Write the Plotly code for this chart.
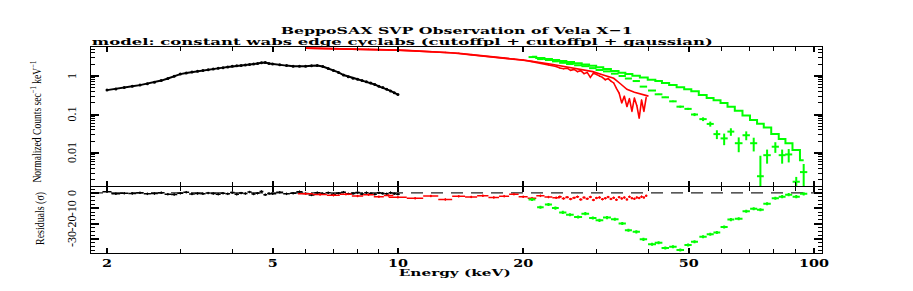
import json
import math
import plotly.graph_objects as go

# ---------------- data ----------------
black_e = [2.0, 2.1, 2.2, 2.3, 2.4, 2.5, 2.6, 2.7, 2.8, 2.9, 3.0, 3.1, 3.2, 3.3, 3.4, 3.5, 3.6, 3.7, 3.8, 3.9,
           4.0, 4.1, 4.2, 4.3, 4.4, 4.5, 4.6, 4.7, 4.8, 4.9, 5.0, 5.2, 5.4, 5.6, 5.8, 6.0, 6.2, 6.4, 6.6, 6.8,
           7.0, 7.2, 7.4, 7.6, 7.8, 8.0, 8.2, 8.4, 8.6, 8.8, 9.0, 9.2, 9.4, 9.6, 9.8, 10.0]
black_xerr = [0.05] * 30 + [0.1] * 26
black_c = [0.43, 0.46, 0.50, 0.54, 0.58, 0.63, 0.69, 0.76, 0.86, 0.98, 1.12, 1.20, 1.27, 1.33, 1.40, 1.46, 1.52, 1.58, 1.65, 1.72,
           1.80, 1.84, 1.88, 1.94, 1.98, 2.04, 2.10, 2.20, 2.25, 2.12, 2.05, 1.96, 1.86, 1.80, 1.78, 1.80, 1.84, 1.88, 1.76, 1.56,
           1.40, 1.24, 1.06, 0.96, 0.88, 0.82, 0.76, 0.71, 0.66, 0.60, 0.54, 0.50, 0.45, 0.41, 0.37, 0.33]
black_r = [0.8, -0.5, -0.2, -0.3, 0.1, -0.6, -0.4, 0.2, -0.8, -1.0, -0.2, 0.5, -0.7, -0.3, -0.5, -0.1, -0.4, -0.8, -0.2, -0.6,
           0.3, -0.9, -0.1, -0.4, 0.6, -0.7, -0.2, 0.9, -1.1, -0.3, -0.5, 0.4, -0.6, -0.2, 0.8, -0.4, -1.3, 0.2, -0.5, 0.1,
           -0.8, -0.2, 0.5, -0.6, -0.3, 0.3, -0.7, 0.2, -0.4, -0.9, 0.1, -0.3, -0.6, 0.2, -0.5, -0.8]

red_e = [6.0, 6.5, 7.0, 7.5, 8.0, 8.5, 9.0, 9.5,
         10, 11, 12, 13, 14, 15, 16, 17, 18, 19, 20, 21, 22, 23, 24,
         24.5, 25, 25.5, 26, 26.5, 27, 27.5, 28, 28.5, 29, 29.5, 30, 30.5, 31, 31.5, 32, 32.5, 33, 33.5,
         34, 34.5, 35, 35.5, 36, 36.5, 37, 37.5, 38, 38.5, 39, 39.5]
red_xerr = [0.25] * 8 + [0.5] * 15 + [0.25] * 31
red_c = [5.30, 5.22, 5.15, 5.10, 5.02, 4.95, 4.88, 4.80,
         4.70, 4.50, 4.30, 4.10, 3.90, 3.60, 3.35, 3.15, 2.95, 2.80, 2.60, 2.36, 2.15, 1.95, 1.76,
         1.62, 1.55, 1.60, 1.40, 1.48, 1.30, 1.38, 1.15, 1.24, 0.92, 1.20, 1.10, 0.98, 0.92, 0.80, 0.86, 0.74, 0.66, 0.48,
         0.36, 0.20, 0.30, 0.16, 0.26, 0.12, 0.27, 0.17, 0.08, 0.24, 0.12, 0.28]
red_r = [-0.5, -1.0, -1.5, -0.8, -2.0, -1.2, -2.4, -1.6,
         -2.8, -3.5, -2.0, -4.2, -2.2, -2.6, -1.8, -2.9, -2.1, -0.8, -2.5, -3.4, -1.9, -2.7, -3.1,
         -2.4, -3.6, -2.8, -4.0, -3.2, -2.5, -4.3, -3.0, -3.8, -2.6, -4.6, -3.3, -2.9, -4.1, -3.5, -2.7, -3.9, -3.1, -4.4,
         -2.8, -3.6, -3.0, -4.2, -2.5, -3.4, -3.8, -2.9, -3.3, -2.4, -3.0, -1.8]
red_model_e = [6.0, 8.0, 10.0, 13.4, 17.7, 20.8, 23.2, 25.4, 27.5, 29.4, 31.0, 33.0, 34.3, 35.5, 37.0, 40.0]
red_model_c = [5.3, 5.0, 4.7, 4.03, 3.0, 2.45, 2.05, 1.7, 1.45, 1.3, 1.08, 0.87, 0.62, 0.45, 0.38, 0.30]

green_e = [21.0, 22.0, 23.0, 23.9, 24.9, 25.9, 27.1, 28.2, 29.4, 30.5, 31.8, 33.2, 34.6, 35.8, 37.4, 38.9, 40.8, 42.3, 43.9,
           45.8, 47.7, 49.8, 51.6, 54.1, 56.3, 58.4, 60.8, 63.1, 65.9, 68.7, 71.6, 74.3, 77.1, 80.7, 83.8, 86.9, 90.6, 94.4]
green_xerr = [0.4, 0.4, 0.45, 0.45, 0.5, 0.55, 0.6, 0.6, 0.6, 0.65, 0.7, 0.7, 0.7, 0.7, 0.75, 0.8, 0.9, 0.9, 0.9,
              0.95, 1.0, 1.0, 1.0, 1.1, 1.1, 1.1, 1.2, 1.2, 1.4, 1.4, 1.4, 1.4, 1.6, 1.6, 1.6, 1.7, 1.8, 1.9]
green_c = [3.1, 2.75, 2.6, 2.4, 2.2, 2.05, 1.9, 1.8, 1.6, 1.43, 1.32, 1.15, 1.0, 0.86, 0.74, 0.53, 0.42, 0.335, 0.28,
           0.22, 0.16, 0.14, 0.10, 0.076, 0.057, 0.031, 0.024, 0.036, 0.018, 0.029, 0.018, 0.0025, 0.0088, 0.0146, 0.0088,
           0.0092, 0.0018, 0.0032]
green_yerr = [0.03, 0.03, 0.028, 0.026, 0.025, 0.024, 0.022, 0.021, 0.02, 0.018, 0.017, 0.016, 0.015, 0.014, 0.013, 0.012,
              0.011, 0.011, 0.010, 0.010, 0.0095, 0.009, 0.009, 0.0085, 0.0085, 0.008, 0.008, 0.008, 0.0075, 0.0075,
              0.007, 0.006, 0.0035, 0.0045, 0.0035, 0.0035, 0.0006, 0.002]
green_model = [3.15, 2.95, 2.75, 2.6, 2.45, 2.3, 2.15, 2.0, 1.85, 1.68, 1.52, 1.35, 1.22, 1.12, 1.02, 0.92, 0.80, 0.74, 0.66,
               0.58, 0.51, 0.45, 0.40, 0.32, 0.27, 0.235, 0.20, 0.16, 0.125, 0.095, 0.072, 0.058, 0.046, 0.031, 0.023,
               0.018, 0.012, 0.0065]
green_r = [-4.3, -9.3, -7.5, -9.9, -12.7, -14.2, -15.7, -13.5, -16.4, -17.9, -16.1, -17.2, -20.0, -24.3, -25.4, -30.3,
           -33.5, -32.5, -35.9, -35.1, -37.2, -34.0, -31.9, -28.6, -26.9, -25.8, -22.2, -17.4, -16.8, -11.9, -10.3, -11.0,
           -7.1, -3.5, -2.4, -1.1, -2.4, -0.6]

x_ticks = [2, 5, 10, 20, 50, 100]
x_minor = [3, 4, 6, 7, 8, 9, 30, 40, 60, 70, 80, 90]
y_ticks = [0.01, 0.1, 1]
y_ticktext = ["0.01", "0.1", "1"]
y_minor = [m * d for d in (0.001, 0.01, 0.1, 1) for m in range(2, 10)]
r_ticks = [0, -10, -20, -30]

TITLE1 = "BeppoSAX SVP Observation of Vela X\u22121"
TITLE2 = "model: constant wabs edge cyclabs (cutoffpl + cutoffpl + gaussian)"
XTITLE = "Energy (keV)"
YTITLE = "Normalized Counts sec<sup>\u22121</sup> keV<sup>\u22121</sup>"
RTITLE = "Residuals (\u03c3)"

BLACK, RED, GREEN = "#000000", "#ff0000", "#00ff00"
WIDE = "DejaVu Serif"
NARROW = "Liberation Serif"

fig = go.Figure()

# ---- top panel ----
fig.add_trace(go.Scatter(x=black_e, y=black_c, mode="lines+markers", xaxis="x", yaxis="y",
                         line=dict(color=BLACK, width=2), marker=dict(color=BLACK, size=3),
                         error_y=dict(type="percent", value=3, color=BLACK, thickness=1, width=0)))
fig.add_trace(go.Scatter(x=red_e, y=red_c, mode="lines", xaxis="x", yaxis="y",
                         line=dict(color=RED, width=1.6),
                         error_y=dict(type="percent", value=4, color=RED, thickness=1, width=0)))
fig.add_trace(go.Scatter(x=red_model_e, y=red_model_c, mode="lines", xaxis="x", yaxis="y",
                         line=dict(color=RED, width=1.6)))
fig.add_trace(go.Scatter(x=green_e, y=green_model, mode="lines", line_shape="hvh", xaxis="x", yaxis="y",
                         line=dict(color=GREEN, width=2)))
fig.add_trace(go.Scatter(x=green_e, y=green_c, mode="markers", xaxis="x", yaxis="y",
                         marker=dict(color=GREEN, size=1),
                         error_x=dict(type="data", array=green_xerr, color=GREEN, thickness=2, width=0),
                         error_y=dict(type="data", array=green_yerr, color=GREEN, thickness=2, width=0)))

# ---- residual panel ----
fig.add_trace(go.Scatter(x=black_e, y=black_r, mode="markers", xaxis="x2", yaxis="y2",
                         marker=dict(color=BLACK, size=2),
                         error_x=dict(type="data", array=black_xerr, color=BLACK, thickness=1.5, width=0),
                         error_y=dict(type="constant", value=0.8, color=BLACK, thickness=1, width=0)))
fig.add_trace(go.Scatter(x=red_e, y=red_r, mode="markers", xaxis="x2", yaxis="y2",
                         marker=dict(color=RED, size=2),
                         error_x=dict(type="data", array=red_xerr, color=RED, thickness=1.5, width=0),
                         error_y=dict(type="constant", value=0.8, color=RED, thickness=1, width=0)))
fig.add_trace(go.Scatter(x=green_e, y=green_r, mode="markers", xaxis="x2", yaxis="y2",
                         marker=dict(color=GREEN, size=1),
                         error_x=dict(type="data", array=green_xerr, color=GREEN, thickness=2, width=0),
                         error_y=dict(type="constant", value=1.0, color=GREEN, thickness=2, width=0)))

xrange = [0.2625, 2.019]
axis_common = dict(showline=True, linecolor=BLACK, linewidth=1.2, mirror="ticks", ticks="inside",
                   tickcolor=BLACK, tickwidth=1.5, showgrid=False, zeroline=False)

# rotated y tick labels, placed on the axes' own data scale (PGPLOT puts them further out)
ytick_annotations = [
    dict(text=t, xref="paper", yref="y", x=0, y=math.log10(v), xshift=-19, xanchor="center", yanchor="middle",
         textangle=-90, showarrow=False, font=dict(family=NARROW, size=12, color=BLACK))
    for v, t in zip(y_ticks, y_ticktext)
] + [
    dict(text=str(v), xref="paper", yref="y2", x=0, y=v, xshift=-19, xanchor="center", yanchor="middle",
         textangle=-90, showarrow=False, font=dict(family=NARROW, size=12, color=BLACK))
    for v in r_ticks
]

fig.update_layout(
    width=905, height=283,
    margin=dict(l=83, r=91, t=39, b=38),
    paper_bgcolor="white", plot_bgcolor="white",
    showlegend=False,
    xaxis=dict(type="log", range=xrange, domain=[0, 1], anchor="y", tickvals=x_ticks,
               showticklabels=False, ticklen=5,
               minor=dict(tickvals=x_minor, ticks="inside", ticklen=4, tickcolor=BLACK, tickwidth=1.2),
               **axis_common),
    yaxis=dict(type="log", range=[-2.857, 0.753], domain=[0.325, 1], anchor="x",
               tickvals=y_ticks, showticklabels=False, ticklen=8,
               minor=dict(tickvals=y_minor, ticks="inside", ticklen=4, tickcolor=BLACK, tickwidth=1),
               **axis_common),
    xaxis2=dict(type="log", range=xrange, domain=[0, 1], anchor="y2", tickvals=x_ticks,
                ticktext=[str(v) for v in x_ticks], ticklen=5, ticklabelstandoff=0,
                tickfont=dict(family=WIDE, size=10.5, color=BLACK, weight="bold"),
                minor=dict(tickvals=x_minor, ticks="inside", ticklen=4, tickcolor=BLACK, tickwidth=1.2),
                **axis_common),
    yaxis2=dict(range=[-39.2, 4.1], domain=[0, 0.322], anchor="x2", tickvals=r_ticks,
                showticklabels=False, ticklen=8,
                minor=dict(dtick=2.5, ticks="inside", ticklen=4, tickcolor=BLACK, tickwidth=1),
                **axis_common),
    shapes=[dict(type="line", xref="x2 domain", yref="y2", x0=0, x1=1, y0=0, y1=0, layer="below",
                 line=dict(color="#222222", width=1.2, dash="12px,8px"))],
    annotations=[
        dict(text=TITLE1, xref="paper", yref="paper",
             x=(456 - 91) / 731, y=(253 - 30) / 206, xanchor="center", yanchor="middle", showarrow=False,
             font=dict(family=WIDE, size=10, color=BLACK, weight="bold")),
        dict(text=TITLE2, xref="paper", yref="paper",
             x=(401.5 - 91) / 731, y=(253 - 41.8) / 206, xanchor="center", yanchor="middle", showarrow=False,
             font=dict(family=WIDE, size=10, color=BLACK, weight="bold")),
        dict(text=XTITLE, xref="paper", yref="paper", x=(454 - 91) / 731, y=(253 - 272) / 206,
             xanchor="center", yanchor="middle", showarrow=False,
             font=dict(family=WIDE, size=10, color=BLACK, weight="bold")),
        dict(text=YTITLE, xref="paper", yref="paper",
             x=0, y=(253 - 122) / 206, xshift=-54, xanchor="center", yanchor="middle", textangle=-90,
             showarrow=False, font=dict(family=NARROW, size=12, color=BLACK)),
        dict(text=RTITLE, xref="paper", yref="paper",
             x=0, y=(253 - 218.5) / 206, xshift=-52, xanchor="center", yanchor="middle", textangle=-90,
             showarrow=False, font=dict(family=NARROW, size=12, color=BLACK)),
    ] + ytick_annotations,
)

# PGPLOT-style text widths (wide bold titles, condensed axis titles)
stretch_widths = {TITLE1: 352, TITLE2: 621, XTITLE: 112, RTITLE: 53}
post = """
var gd = document.getElementById('{plot_id}');
var want = %s;
function fit(t, w) { t.setAttribute('textLength', w); t.setAttribute('lengthAdjust', 'spacingAndGlyphs'); }
function stretchTexts() {
  gd.querySelectorAll('text.annotation-text').forEach(function (t) {
    var s = t.textContent;
    if (want[s]) { fit(t, want[s]); }
    else if (s.indexOf('Normalized') === 0) { fit(t, 122); }
  });
  gd.querySelectorAll('g.x2tick text').forEach(function (t) {
    fit(t, t.textContent.length * 10);
  });
}
stretchTexts();
setTimeout(stretchTexts, 50);
gd.on('plotly_afterplot', function () { setTimeout(stretchTexts, 0); });
""" % json.dumps(stretch_widths)

fig.write_html("out.html", post_script=post)
